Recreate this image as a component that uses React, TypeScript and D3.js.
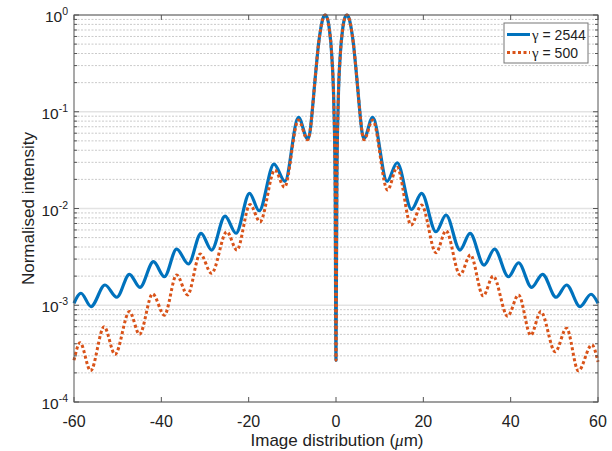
import React from "react";
import * as d3 from "d3";

const W = 612;
const H = 451;

// gamma = 2544 (blue, solid): [x (µm), normalised intensity]
const blueX = [-60, -58.4, -56.1, -52.9, -50.2, -47.3, -44.9, -41.8, -39.3, -36.5, -33.8, -30.9, -28.5, -25.4, -22.9, -19.8, -17.6, -14.2, -11.7, -8.6, -6.5, -6.0, -5.5, -5.0, -4.5, -4.0, -3.5, -3.0, -2.5, -2.0, -1.5, -1.0, -0.5, -0.2, 0, 0.2, 0.5, 1.0, 1.5, 2.0, 2.5, 3.0, 3.5, 4.0, 4.5, 5.0, 5.5, 6.0, 6.4, 8.4, 11.7, 14.0, 17.3, 19.6, 22.9, 25.2, 28.4, 30.7, 33.9, 36.3, 39.5, 41.8, 44.8, 47.3, 50.4, 52.8, 55.9, 58.4, 60];
const blueY = [0.00105, 0.00133, 0.00097, 0.00162, 0.00121, 0.00209, 0.00153, 0.00282, 0.00197, 0.0038, 0.00267, 0.00553, 0.00372, 0.00836, 0.00555, 0.01435, 0.00948, 0.0288, 0.0191, 0.0877, 0.0525, 0.06, 0.095, 0.17, 0.3, 0.5, 0.72, 0.92, 1.0, 0.93, 0.7, 0.4, 0.12, 0.02, 0.00027, 0.02, 0.12, 0.4, 0.7, 0.93, 1.0, 0.92, 0.72, 0.5, 0.3, 0.17, 0.095, 0.06, 0.053, 0.0877, 0.0191, 0.0297, 0.0098, 0.01435, 0.00575, 0.00857, 0.00372, 0.00553, 0.0026, 0.00381, 0.00197, 0.00275, 0.00153, 0.00209, 0.00121, 0.00162, 0.00097, 0.0013, 0.00105];

// gamma = 500 (orange, dotted)
const orangeX = [-60, -58.6, -56.2, -53.1, -50.6, -47.3, -45.0, -42.0, -39.3, -36.5, -34.0, -31.1, -28.5, -25.0, -22.7, -19.7, -17.4, -14.0, -11.8, -8.6, -6.5, -6.0, -5.5, -5.0, -4.5, -4.0, -3.5, -3.0, -2.5, -2.0, -1.5, -1.0, -0.5, -0.2, 0, 0.2, 0.5, 1.0, 1.5, 2.0, 2.5, 3.0, 3.5, 4.0, 4.5, 5.0, 5.5, 6.0, 6.4, 8.4, 11.8, 14.0, 17.2, 19.6, 22.9, 25.2, 28.4, 30.8, 33.7, 36.0, 39.3, 41.8, 44.6, 46.9, 50.2, 52.8, 55.5, 58.6, 60];
const orangeY = [0.00027, 0.00041, 0.00021, 0.0006, 0.00031, 0.00086, 0.0005, 0.00131, 0.00079, 0.00206, 0.00128, 0.00339, 0.00214, 0.00575, 0.00372, 0.011, 0.0073, 0.025, 0.0166, 0.0822, 0.0513, 0.06, 0.095, 0.17, 0.3, 0.5, 0.72, 0.92, 1.0, 0.93, 0.7, 0.4, 0.12, 0.02, 0.00027, 0.02, 0.12, 0.4, 0.7, 0.93, 1.0, 0.92, 0.72, 0.5, 0.3, 0.17, 0.095, 0.06, 0.0513, 0.0822, 0.0155, 0.0267, 0.00676, 0.01086, 0.00349, 0.00589, 0.00206, 0.00331, 0.00125, 0.002, 0.00077, 0.00128, 0.00049, 0.00086, 0.00033, 0.00058, 0.00021, 0.00039, 0.00026];

const xTicks = [-60, -40, -20, 0, 20, 40, 60];
const yDecades = [0, -1, -2, -3, -4];
const legendValues = ["2544", "500"];
const seriesColors = ["#0072BD", "#D95319"];

const L = 74, R = 598, T = 15, B = 402;
const FONT = "'Liberation Sans', Arial, Helvetica, sans-serif";
const SYMBOL_FONT = "'Liberation Serif', 'DejaVu Serif', serif";

export default function App() {
  const x = d3.scaleLinear().domain([-60, 60]).range([L, R]);
  const y = d3.scaleLog().domain([1e-4, 1]).range([B, T]);

  const minorVals: number[] = [];
  for (let e = -4; e < 0; e++) {
    for (let m = 2; m <= 9; m++) minorVals.push(m * Math.pow(10, e));
  }

  const line = d3
    .line<[number, number]>()
    .x((d) => x(d[0]))
    .y((d) => y(d[1]))
    .curve(d3.curveMonotoneX);

  const blueData: [number, number][] = blueX.map((v, i) => [v, blueY[i]]);
  const orangeData: [number, number][] = orangeX.map((v, i) => [v, orangeY[i]]);

  const axisColor = "#555";

  return (
    <svg
      width={W}
      height={H}
      style={{ position: "fixed", left: 0, top: 0, background: "#fff" }}
      fontFamily={FONT}
    >
      <rect x={0} y={0} width={W} height={H} fill="#fff" />
      {/* minor grid */}
      {minorVals.map((v, i) => (
        <line key={"mg" + i} x1={L} x2={R} y1={y(v)} y2={y(v)} stroke="#bdbdbd" strokeWidth={0.8} strokeDasharray="2,1.5" />
      ))}
      {/* major grid */}
      {yDecades.map((e) => (
        <line key={"Mg" + e} x1={L} x2={R} y1={y(Math.pow(10, e))} y2={y(Math.pow(10, e))} stroke="#e3e3e3" strokeWidth={1.5} />
      ))}

      {/* curves */}
      <path d={line(blueData) || ""} fill="none" stroke={seriesColors[0]} strokeWidth={3.2} strokeLinejoin="round" />
      <path d={line(orangeData) || ""} fill="none" stroke={seriesColors[1]} strokeWidth={3} strokeDasharray="3,2.5" />

      {/* box */}
      <rect x={L} y={T} width={R - L} height={B - T} fill="none" stroke={axisColor} strokeWidth={1} />

      {/* x ticks */}
      {xTicks.map((t) => (
        <g key={"xt" + t}>
          <line x1={x(t)} x2={x(t)} y1={B} y2={B - 5} stroke={axisColor} />
          <line x1={x(t)} x2={x(t)} y1={T} y2={T + 5} stroke={axisColor} />
          <text x={x(t)} y={427} textAnchor="middle" fontSize={16} fill="#222">
            {t}
          </text>
        </g>
      ))}

      {/* y ticks */}
      {yDecades.map((e) => (
        <g key={"yt" + e}>
          <line x1={L} x2={L + 5} y1={y(Math.pow(10, e))} y2={y(Math.pow(10, e))} stroke={axisColor} />
          <line x1={R} x2={R - 5} y1={y(Math.pow(10, e))} y2={y(Math.pow(10, e))} stroke={axisColor} />
          <text x={68} y={y(Math.pow(10, e)) + 7} textAnchor="end" fontSize={15.5} fill="#222">
            10
            <tspan fontSize={10.5} dy={-7}>
              {String(e)}
            </tspan>
          </text>
        </g>
      ))}
      {minorVals.map((v, i) => (
        <g key={"ym" + i}>
          <line x1={L} x2={L + 3} y1={y(v)} y2={y(v)} stroke={axisColor} />
          <line x1={R} x2={R - 3} y1={y(v)} y2={y(v)} stroke={axisColor} />
        </g>
      ))}

      {/* labels */}
      <text x={337} y={446} textAnchor="middle" fontSize={17} fill="#222">
        Image distribution (<tspan fontFamily={SYMBOL_FONT} fontStyle="italic">{"\u03bc"}</tspan>m)
      </text>
      <text transform={`translate(34,${(T + B) / 2}) rotate(-90)`} textAnchor="middle" fontSize={17} fill="#222">
        Normalised intensity
      </text>

      {/* legend */}
      <g>
        <rect x={504} y={23} width={84} height={40} fill="#fff" stroke="#777" strokeWidth={1} />
        {legendValues.map((lab, i) => (
          <g key={"lg" + i}>
            <line
              x1={507}
              x2={530}
              y1={34.5 + i * 18}
              y2={34.5 + i * 18}
              stroke={seriesColors[i]}
              strokeWidth={3}
              strokeDasharray={i === 1 ? "3,2.5" : undefined}
            />
            <text x={532} y={39.5 + i * 18} fontSize={14} fill="#222">
              <tspan fontFamily={SYMBOL_FONT} fontSize={15}>{"\u03b3"}</tspan>
              {" = " + lab}
            </text>
          </g>
        ))}
      </g>
    </svg>
  );
}
